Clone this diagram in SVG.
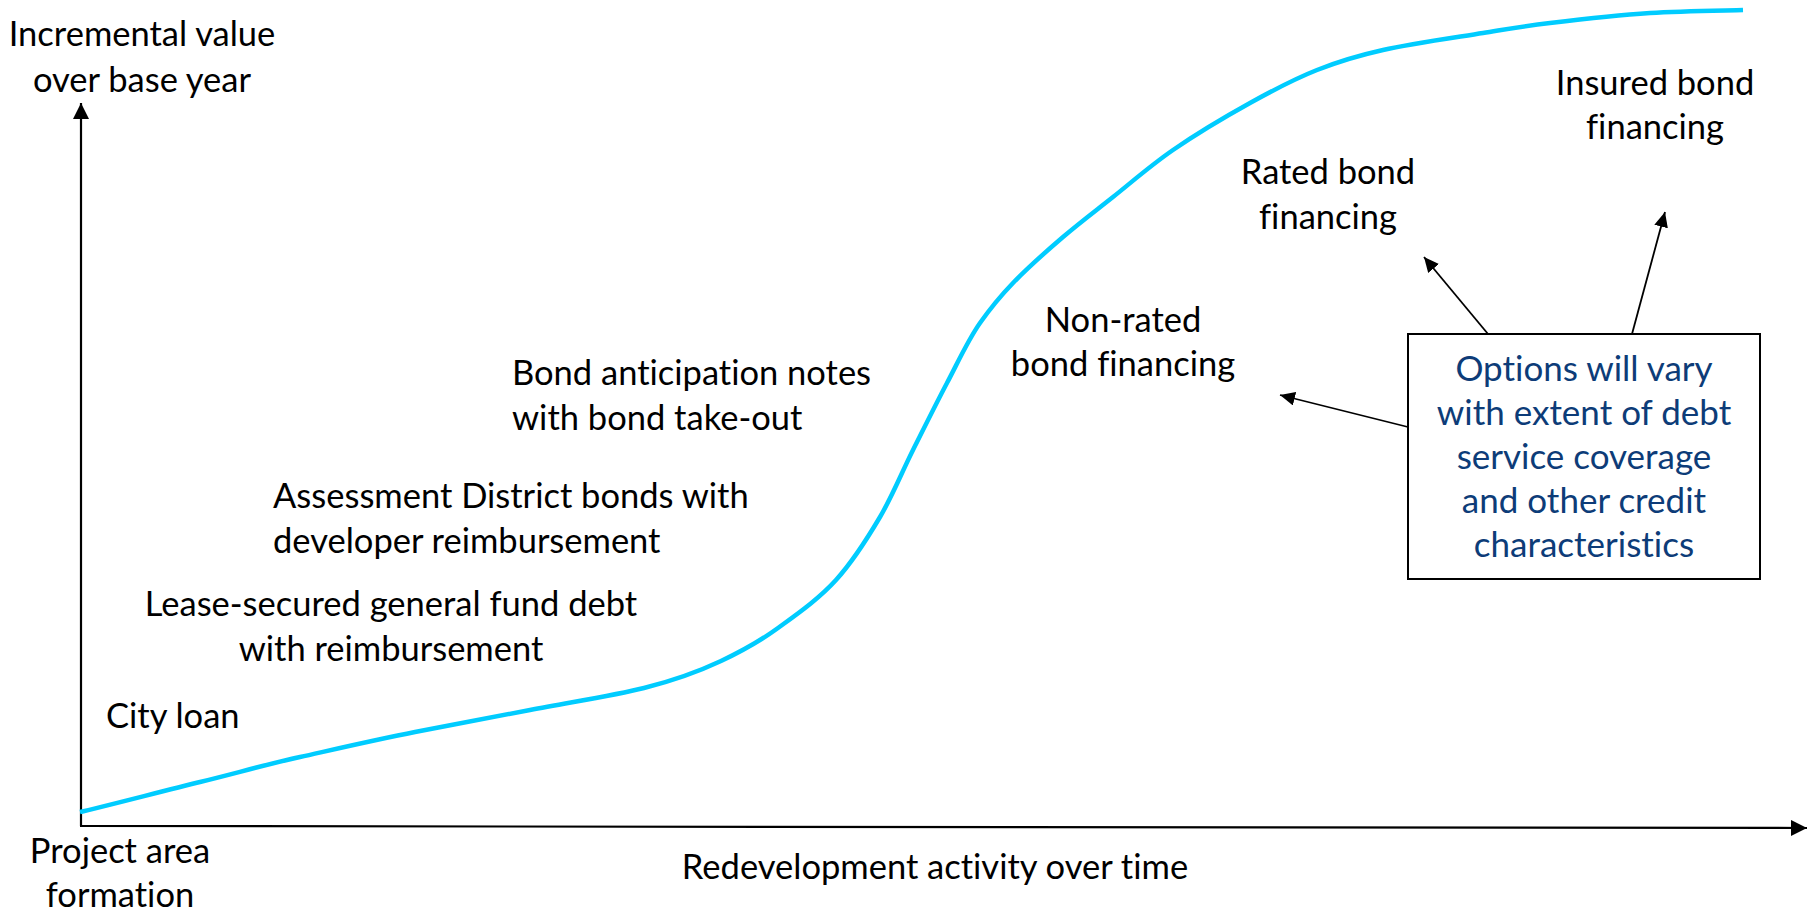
<svg xmlns="http://www.w3.org/2000/svg" width="1813" height="915" viewBox="0 0 1813 915">
  <style>
    .lbl { font-family: Lato, "Open Sans", "Liberation Sans", sans-serif; font-size: 34.5px; fill: #000; font-variant-ligatures: none; }
    .mid { text-anchor: middle; }
    .note { font-family: Lato, "Open Sans", "Liberation Sans", sans-serif; font-size: 35px; fill: #0D3C78; text-anchor: middle; font-variant-ligatures: none; }
    .axis { stroke: #000; stroke-width: 2.2; fill: none; }
    .lead { stroke: #000; stroke-width: 1.8; fill: none; }
    .curve { stroke: #00CCFF; stroke-width: 4.5; fill: none; stroke-linecap: butt; stroke-linejoin: round; }
  </style>
  <defs>
    <marker id="head" markerUnits="userSpaceOnUse" markerWidth="16" markerHeight="16" refX="16" refY="8" orient="auto">
      <path d="M0,0 L16,8 L0,16 z" fill="#000"/>
    </marker>
    <marker id="headSmall" markerUnits="userSpaceOnUse" markerWidth="15" markerHeight="14" refX="15" refY="7" orient="auto">
      <path d="M0,0 L15,7 L0,14 z" fill="#000"/>
    </marker>
  </defs>
  <rect width="1813" height="915" fill="#fff"/>

  <!-- axes -->
  <g id="axes">
    <line class="axis" x1="81" y1="826" x2="81" y2="103" marker-end="url(#head)"/>
    <line class="axis" x1="80" y1="826" x2="1807" y2="828" marker-end="url(#head)"/>
  </g>

  <!-- growth curve -->
  <g id="value-curve">
    <path class="curve" d="M80,812 C100,807.5 163.3,791 200,782 C236.7,773 264.2,765 300,757 C335.8,749 376.7,739.5 415,732 C453.3,724.5 491.8,717.5 530,710 C568.2,702.5 612.2,696 644,688 C675.8,680 698.7,671.5 721,661 C743.3,650.5 758.8,642 778,628 C797.2,614 819,598.8 836,580 C853,561.2 867.2,538.7 880,517 C892.8,495.3 901.8,472.3 913,450 C924.2,427.7 935.8,404.2 947,383 C958.2,361.8 968,340 980,323 C992,306 999.2,297.3 1013,283 C1026.8,268.7 1046.3,251.3 1063,237 C1079.7,222.7 1094.7,211.5 1113,197 C1131.3,182.5 1150.2,165.7 1173,150 C1195.8,134.3 1226,116.3 1250,103 C1274,89.7 1294.8,78.8 1317,70 C1339.2,61.2 1355.3,56.2 1383,50 C1410.7,43.8 1455.2,37.5 1483,33 C1510.8,28.5 1522.2,26.3 1550,23 C1577.8,19.7 1617.8,15.2 1650,13 C1682.2,10.8 1727.5,10.5 1743,10"/>
  </g>

  <!-- axis titles -->
  <g id="y-title">
    <text class="lbl mid" x="142" y="46">Incremental value</text>
    <text class="lbl mid" x="142" y="92">over base year</text>
  </g>
  <g id="origin-label">
    <text class="lbl mid" x="120" y="863">Project area</text>
    <text class="lbl mid" x="120" y="907">formation</text>
  </g>
  <g id="x-title">
    <text class="lbl mid" x="935" y="879">Redevelopment activity over time</text>
  </g>

  <!-- financing stages -->
  <g id="city-loan">
    <text class="lbl" x="106" y="728">City loan</text>
  </g>
  <g id="lease-secured">
    <text class="lbl mid" x="391" y="616">Lease-secured general fund debt</text>
    <text class="lbl mid" x="391" y="661">with reimbursement</text>
  </g>
  <g id="assessment-district">
    <text class="lbl" x="273" y="508">Assessment District bonds with</text>
    <text class="lbl" x="273" y="553">developer reimbursement</text>
  </g>
  <g id="bond-anticipation">
    <text class="lbl" x="512" y="385">Bond anticipation notes</text>
    <text class="lbl" x="512" y="430">with bond take-out</text>
  </g>
  <g id="non-rated">
    <text class="lbl mid" x="1123" y="332">Non-rated</text>
    <text class="lbl mid" x="1123" y="376">bond financing</text>
  </g>
  <g id="rated">
    <text class="lbl mid" x="1328" y="184">Rated bond</text>
    <text class="lbl mid" x="1328" y="229">financing</text>
  </g>
  <g id="insured">
    <text class="lbl mid" x="1655" y="95">Insured bond</text>
    <text class="lbl mid" x="1655" y="139">financing</text>
  </g>

  <!-- credit note box -->
  <g id="credit-note">
    <rect x="1408" y="334" width="352" height="245" fill="#fff" stroke="#000" stroke-width="2"/>
    <text class="note" x="1584" y="381">Options will vary</text>
    <text class="note" x="1584" y="425">with extent of debt</text>
    <text class="note" x="1584" y="469">service coverage</text>
    <text class="note" x="1584" y="513">and other credit</text>
    <text class="note" x="1584" y="557">characteristics</text>
  </g>

  <!-- pointers from the note -->
  <g id="connectors">
    <line class="lead" x1="1408" y1="427" x2="1280" y2="395" marker-end="url(#headSmall)"/>
    <line class="lead" x1="1488" y1="334" x2="1424" y2="257" marker-end="url(#headSmall)"/>
    <line class="lead" x1="1632" y1="334" x2="1665" y2="212" marker-end="url(#headSmall)"/>
  </g>
</svg>
